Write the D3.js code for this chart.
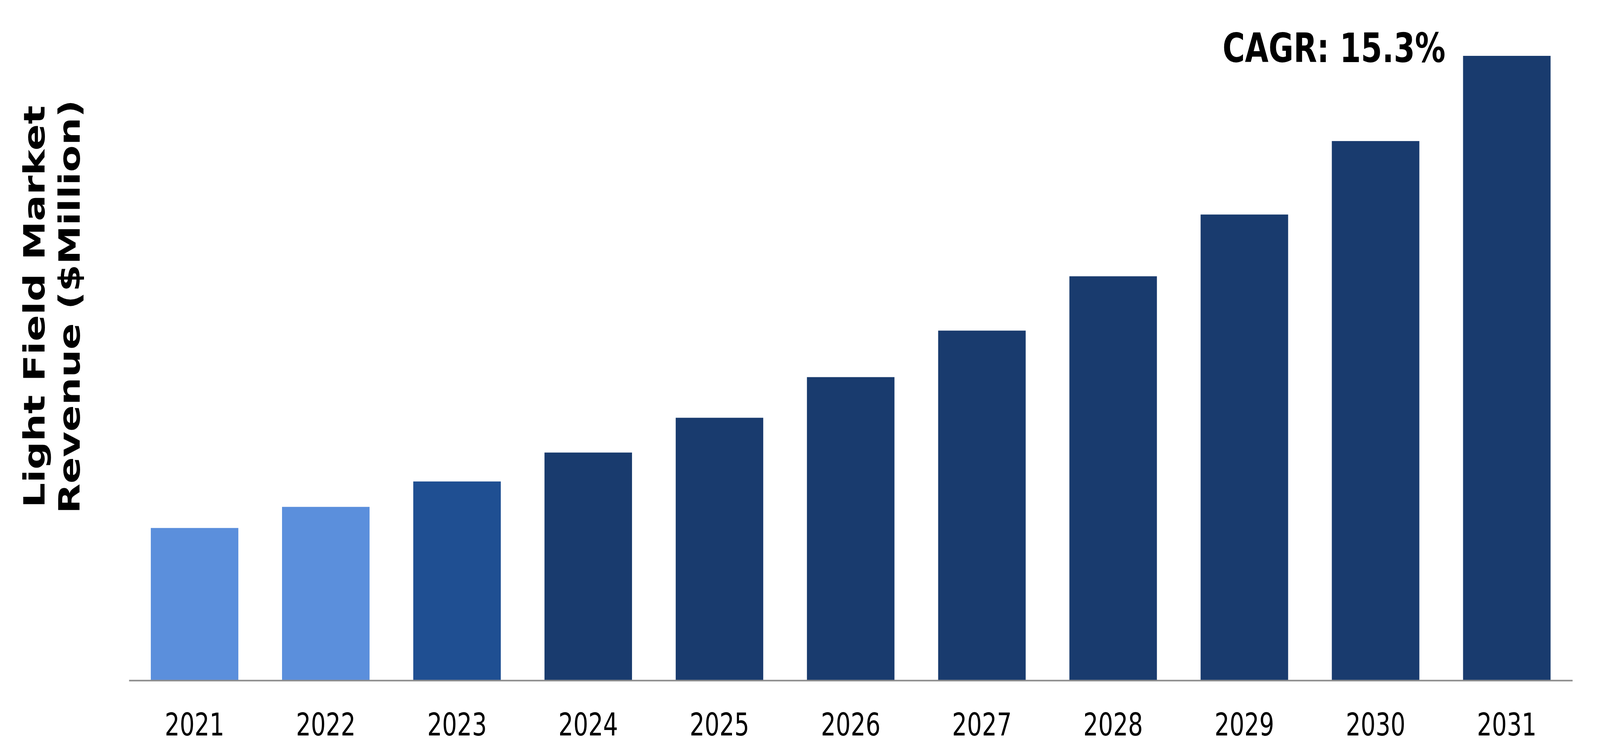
<!DOCTYPE html>
<html>
<head>
<meta charset="utf-8">
<script src="https://cdn.jsdelivr.net/npm/d3@7"></script>
<style>
  html, body { margin: 0; padding: 0; background: #fff; overflow: hidden; }
  #chart svg { display: block; width: 100vw; height: 100vh; }
  text { font-family: Verdana, "DejaVu Sans", sans-serif; }
</style>
</head>
<body>
<div id="chart"></div>
<script>
var years = ["2021", "2022", "2023", "2024", "2025", "2026", "2027", "2028", "2029", "2030", "2031"];
var revenue = [39.0, 44.4, 50.9, 58.3, 67.2, 77.6, 89.5, 103.4, 119.2, 138.0, 159.8];
var barColors = ["#5b8fdc", "#5b8fdc", "#1f4f92", "#193b6e", "#193b6e", "#193b6e",
                 "#193b6e", "#193b6e", "#193b6e", "#193b6e", "#193b6e"];
var yLabelLines = ["Light Field Market", "Revenue ($Million)"];
var cagrText = "CAGR: 15.3%";

var width = 5460, height = 1933;
var axisY = 1742;

// drawn in a fixed 5460x1933 coordinate box, stretched to the window
var svg = d3.select("#chart").append("svg")
  .attr("viewBox", "0 0 " + width + " " + height)
  .attr("preserveAspectRatio", "none")

svg.append("rect").attr("width", width).attr("height", height).attr("fill", "#fff");

var x = d3.scaleBand()
  .domain(years)
  .range([440, 5366])
  .paddingInner(0.333)
  .paddingOuter(0.1667);

var y = d3.scaleLinear()
  .domain([0, d3.max(revenue)])
  .range([axisY, 143]);

svg.selectAll("rect.bar")
  .data(revenue)
  .enter()
  .append("rect")
  .attr("class", "bar")
  .attr("x", function (d, i) { return x(years[i]); })
  .attr("y", function (d) { return y(d); })
  .attr("width", x.bandwidth())
  .attr("height", function (d) { return y(0) - y(d); })
  .style("fill", function (d, i) { return barColors[i]; });

// x axis, no ticks, thick grey baseline
var xAxis = svg.append("g")
  .attr("transform", "translate(0," + axisY + ")")
  .call(d3.axisBottom(x).tickSize(0).tickSizeOuter(0).tickPadding(84));

xAxis.select(".domain")
  .attr("stroke", "#8c8c8c")
  .attr("stroke-width", 4);

xAxis.selectAll("text")
  .attr("fill", "#000")
  .style("font-size", "80px")
  .style("font-family", "Verdana, 'DejaVu Sans', sans-serif");

// rotated y label, two lines
var yLabel = svg.append("text")
  .attr("transform", "translate(0,785) rotate(-90)")
  .attr("text-anchor", "middle")
  .style("font-size", "100px")
  .style("font-weight", "bold")
  .attr("fill", "#000");

yLabel.selectAll("tspan")
  .data(yLabelLines)
  .enter()
  .append("tspan")
  .attr("x", 0)
  .attr("y", function (d, i) { return 152 + i * 120; })
  .text(function (d) { return d; });

svg.append("text")
  .attr("x", 4172)
  .attr("y", 159)
  .style("font-size", "104px")
  .style("font-weight", "bold")
  .attr("fill", "#000")
  .text(cagrText);
</script>
</body>
</html>
